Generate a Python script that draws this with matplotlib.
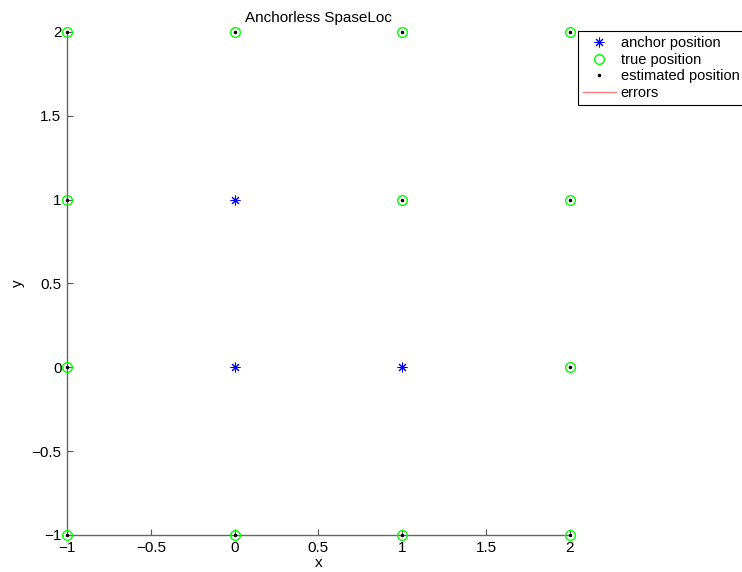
import numpy as np
import matplotlib
matplotlib.use('Agg')
import matplotlib.pyplot as plt

plt.rcParams['font.family'] = ['Liberation Sans', 'DejaVu Sans']
plt.rcParams['font.size'] = 11

# anchor nodes
anchor_x = [0, 0, 1]
anchor_y = [1, 0, 0]

# true sensor positions (grid without anchors)
true_x = [-1, 0, 1, 2, -1, 1, 2, -1, 2, -1, 0, 1, 2]
true_y = [2, 2, 2, 2, 1, 1, 1, 0, 0, -1, -1, -1, -1]

# estimated positions (same as true ones here)
est_x = [-1, 0, 1, 2, -1, 1, 2, -1, 2, -1, 0, 1, 2]
est_y = [2, 2, 2, 2, 1, 1, 1, 0, 0, -1, -1, -1, -1]

x_ticks = [-1, -0.5, 0, 0.5, 1, 1.5, 2]
y_ticks = [-1, -0.5, 0, 0.5, 1, 1.5, 2]
tick_lbl = ['\u22121', '\u22120.5', '0', '0.5', '1', '1.5', '2']

fig = plt.figure(figsize=(7.42, 5.72), dpi=100)
ax = fig.add_axes([0.0903, 0.0647, 0.6776, 0.8794])

ax.plot(anchor_x, anchor_y, marker=(8, 2, 0), color='blue', markersize=7,
        markeredgewidth=0.75, linestyle='none', label='anchor position',
        clip_on=False, zorder=3)
ax.plot(true_x, true_y, 'o', markerfacecolor='none', markeredgecolor='#00ff00',
        markersize=7, markeredgewidth=1.0, linestyle='none', label='true position',
        clip_on=False, zorder=3)
ax.plot(est_x, est_y, '.', color='black', markersize=3, linestyle='none',
        label='estimated position', clip_on=False, zorder=4)
# error lines (zero length here)
for tx, ty, ex, ey in zip(true_x, true_y, est_x, est_y):
    ax.plot([tx, ex], [ty, ey], color='#ff7f7f', linewidth=1, clip_on=False)
ax.plot([], [], color='#ff7f7f', linewidth=1, label='errors')

ax.set_xlim(-1, 2)
ax.set_ylim(-1, 2)
ax.set_xticks(x_ticks)
ax.set_yticks(y_ticks)
ax.set_xticklabels(tick_lbl)
ax.set_yticklabels(tick_lbl)
ax.tick_params(direction='in', length=4, width=0.8, color='#555555', pad=4, labelsize=11)
for s in ['top', 'right']:
    ax.spines[s].set_visible(False)
for s in ['left', 'bottom']:
    ax.spines[s].set_color('#666666')
    ax.spines[s].set_linewidth(1.0)

ax.set_xlabel('x', fontsize=11, labelpad=1)
ax.set_ylabel('y', fontsize=11, labelpad=5)
ax.set_title('Anchorless SpaseLoc', fontsize=11, pad=7.5)

leg = fig.legend(loc='upper left', bbox_to_anchor=(0.779, 0.945), fontsize=10.5,
                 frameon=True, fancybox=False, edgecolor='black', framealpha=1,
                 borderpad=0.32, labelspacing=0.18, handlelength=2.3, handletextpad=0.3,
                 borderaxespad=0)
leg.get_frame().set_linewidth(0.8)

fig.savefig('out.png', dpi=100)
